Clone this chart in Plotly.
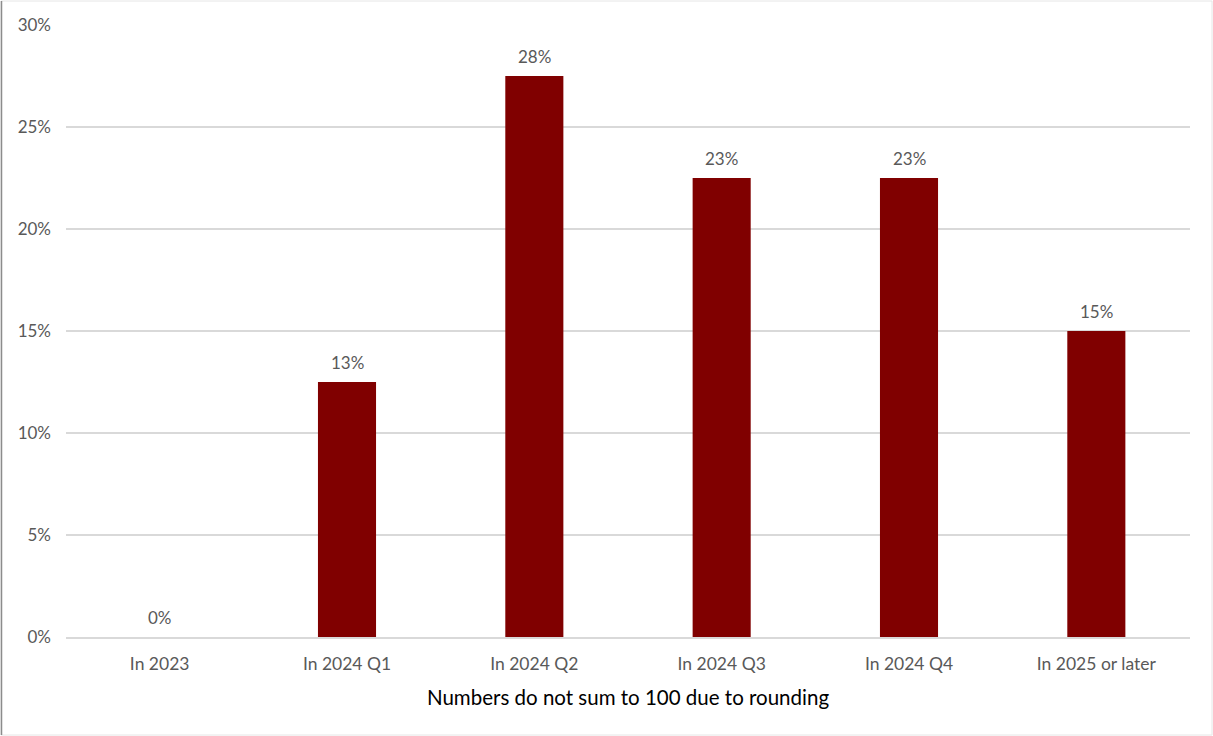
import math
import plotly.graph_objects as go

categories = ["In 2023", "In 2024 Q1", "In 2024 Q2", "In 2024 Q3", "In 2024 Q4", "In 2025 or later"]
values = [0, 12.5, 27.5, 22.5, 22.5, 15]
y_ticks = [0, 5, 10, 15, 20, 25, 30]
x_title = "Numbers do not sum to 100 due to rounding"

W, H = 1213, 736
ml, mr, mt, mb = 66, 23, 25, 99
pw = W - ml - mr
ph = H - mt - mb
FONT = "Lato, Open Sans, sans-serif"

fig = go.Figure()
fig.add_trace(go.Bar(
    x=categories, y=values,
    marker=dict(color="#800000", line=dict(width=0)),
    hoverinfo="x+y",
))

for c, v in zip(categories, values):
    fig.add_annotation(x=c, y=v, text=f"{math.floor(v + 0.5)}%",
                       showarrow=False, yanchor="bottom", yshift=7,
                       font=dict(family=FONT, size=17, color="#595959"))

fig.update_layout(
    width=W, height=H,
    margin=dict(l=ml, r=mr, t=mt, b=mb),
    paper_bgcolor="white", plot_bgcolor="white",
    bargap=0.69,
    showlegend=False,
    font=dict(family=FONT, size=17, color="#595959"),
    xaxis=dict(
        showgrid=False, showline=True, linecolor="#d9d9d9", linewidth=1.5,
        ticks="", tickfont=dict(size=17.5, color="#595959"),
        ticklabelstandoff=10,
        title=dict(text=x_title, font=dict(size=20.5, color="#000000"), standoff=18),
    ),
    yaxis=dict(
        range=[0, 30], tickmode="array", tickvals=y_ticks,
        ticktext=[f"{t}%" for t in y_ticks],
        showgrid=True, gridcolor="#d9d9d9", gridwidth=1.5,
        zeroline=False, showline=False, ticks="",
        ticklabelstandoff=14,
        tickfont=dict(size=17, color="#595959"),
    ),
)

# chart frame
fig.add_shape(type="rect", xref="paper", yref="paper",
              x0=(1 - ml) / pw, x1=(W - 1 - ml) / pw,
              y0=-(H - 1 - mt - ph) / ph, y1=1 + (mt - 1) / ph,
              line=dict(color="#e6e6e6", width=1), layer="below")
fig.add_shape(type="line", xref="paper", yref="paper",
              x0=(1.5 - ml) / pw, x1=(1.5 - ml) / pw,
              y0=-(H - 1 - mt - ph) / ph, y1=1 + (mt - 1) / ph,
              line=dict(color="#8c8c8c", width=1.5))

fig.write_html("out.html", config={"displayModeBar": False},
               post_script="document.body.style.margin='0';document.body.style.overflow='hidden';")
